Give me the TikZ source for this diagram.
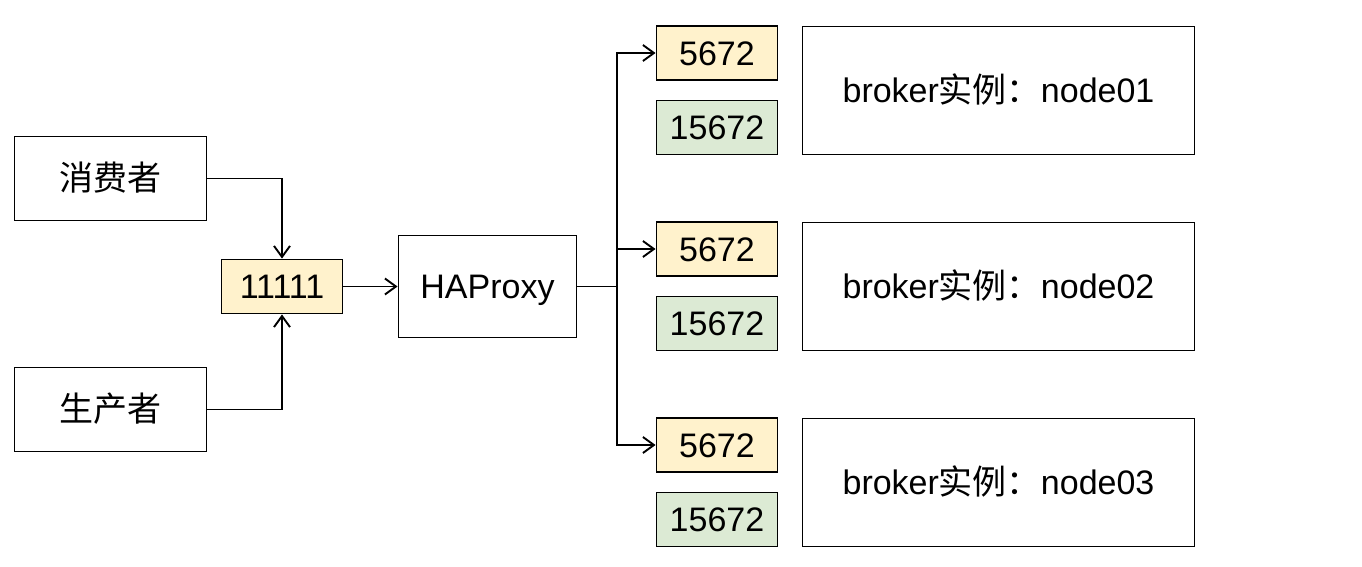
\documentclass[tikz,border=0pt]{standalone}
\usepackage{fontspec}
\setmainfont{Liberation Sans}
\newfontfamily\cjk{Noto Sans CJK SC}
\usetikzlibrary{arrows.meta}
\definecolor{ylw}{HTML}{FFF2CC}
\definecolor{grn}{HTML}{DCEAD4}
\begin{document}
\begin{tikzpicture}[x=1pt,y=-1pt,
  box/.style={draw=black, line width=1.9pt, fill=white, inner sep=0pt,
    font=\fontsize{34}{40}\selectfont, text height=31.3pt, text depth=6.8pt},
  portbox/.style={box, minimum width=121, minimum height=54},
  brokerbox/.style={box, minimum width=392, minimum height=128},
  arr/.style={line width=1.9pt, -{Straight Barb[length=11pt,width=16pt,line width=1.9pt]}},
  ln/.style={line width=1.9pt}]
\useasboundingbox (0,0) rectangle (1362,567);
\node[box, minimum width=192, minimum height=84] (cons) at (110.5,178.5) {\cjk 消费者};
\node[box, minimum width=192, minimum height=84] (prod) at (110.5,409.5) {\cjk 生产者};
\node[portbox, fill=ylw] (port) at (282,286.5) {11111};
\node[box, minimum width=178, minimum height=102] (hap) at (487.5,286.5) {HAProxy};
\coordinate (bus) at (617,286.5);
\node[portbox, fill=ylw] (a1) at (717,53) {5672};
\node[portbox, fill=grn] (b1) at (717,127.5) {15672};
\node[brokerbox] (n1) at (998.5,90.5) {broker{\cjk 实例：}node01};
\node[portbox, fill=ylw] (a2) at (717,249) {5672};
\node[portbox, fill=grn] (b2) at (717,323.5) {15672};
\node[brokerbox] (n2) at (998.5,286.5) {broker{\cjk 实例：}node02};
\node[portbox, fill=ylw] (a3) at (717,445) {5672};
\node[portbox, fill=grn] (b3) at (717,519.5) {15672};
\node[brokerbox] (n3) at (998.5,482.5) {broker{\cjk 实例：}node03};
\draw[arr] (cons.east) -| (port.north);
\draw[arr] (prod.east) -| (port.south);
\draw[arr] (port.east) -- (hap.west);
\draw[ln] (hap.east) -- (bus);
\draw[arr] (bus) |- (a1.west);
\draw[arr] (bus) |- (a2.west);
\draw[arr] (bus) |- (a3.west);
\end{tikzpicture}
\end{document}
